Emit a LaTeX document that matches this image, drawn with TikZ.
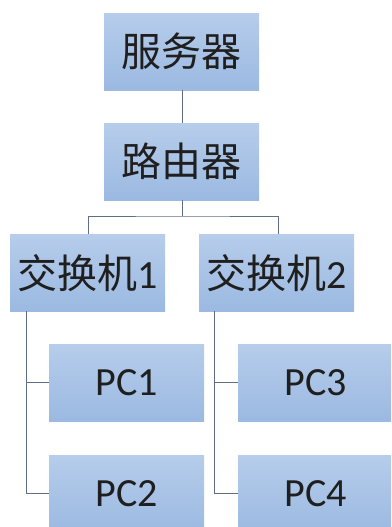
\documentclass[tikz,border=0pt]{standalone}
\usepackage{fontspec}
\setmainfont{Carlito}
\newfontfamily\cjk{Noto Sans CJK SC}
\definecolor{boxtop}{HTML}{B6CDEB}
\definecolor{boxbot}{HTML}{9BB9E1}
\definecolor{linec}{HTML}{5F6E82}
\begin{document}
\begin{tikzpicture}[x=1pt,y=-1pt,
  boxnode/.style={rectangle, minimum width=155pt, minimum height=77pt, inner sep=0pt,
    top color=boxtop, bottom color=boxbot, draw=none, anchor=north west,
    font=\fontsize{40}{46}\selectfont, text=black!88},
  conn/.style={draw=linec, line width=0.9pt}]
\useasboundingbox (0,0) rectangle (391,527);
\begin{scope}
\clip (0,0) rectangle (391,527);
\node[boxnode] (srv) at (104,13) {\cjk 服务器};
\node[boxnode] (rtr) at (104,123) {\cjk 路由器};
\node[boxnode] (sw1) at (10,234) {\cjk 交换机\rmfamily 1};
\node[boxnode] (sw2) at (199,234) {\cjk 交换机\rmfamily 2};
\node[boxnode] (pc1) at (49,344) {PC1};
\node[boxnode] (pc2) at (49,455) {PC2};
\node[boxnode] (pc3) at (238,344) {PC3};
\node[boxnode] (pc4) at (238,455) {PC4};
\coordinate (j) at (182,216);
\draw[conn] (srv.south -| 182,0) -- (rtr.north -| 182,0);
\draw[conn] (rtr.south -| 182,0) -- (j);
\draw[conn] (88,234) |- (j) -| (278,234);
\draw[conn] (sw1.south -| 26,0) |- (pc1.west);
\draw[conn] (sw1.south -| 26,0) |- (pc2.west);
\draw[conn] (sw2.south -| 214,0) |- (pc3.west);
\draw[conn] (sw2.south -| 214,0) |- (pc4.west);
\end{scope}
\end{tikzpicture}
\end{document}
